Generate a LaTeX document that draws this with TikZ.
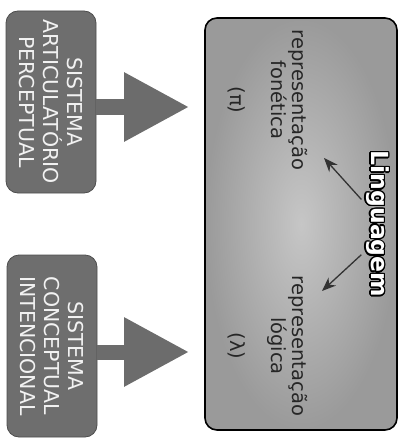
\documentclass[tikz,border=0pt]{standalone}
\usepackage{fontspec}
\setmainfont{DejaVu Sans}
\usepackage[copies]{contour}
\usetikzlibrary{arrows.meta, calc}
\definecolor{sysgray}{HTML}{6E6E6E}
\definecolor{boxgray}{HTML}{9A9A9A}
\definecolor{boxlight}{HTML}{C6C6C6}
\definecolor{arrowgray}{HTML}{6C6C6C}
\contourlength{1.3pt}

\begin{document}
\begin{tikzpicture}[
    x=1pt, y=-1pt,
    sysbox/.style={rectangle, rounded corners=12pt, fill=sysgray, draw=sysgray!70!black, line width=0.8pt,
                   minimum width=182pt, minimum height=90pt, rotate=-90, align=center, text=black!5,
                   font=\fontsize{20.5}{24}\selectfont},
    langbox/.style={rectangle, rounded corners=12pt, draw=black, line width=1.6pt,
                    inner color=boxlight, outer color=boxgray, minimum width=192pt, minimum height=412pt},
    rep/.style={rotate=-90, align=center, text=black!85, font=\fontsize{19.5}{21}\selectfont},
    title/.style={rotate=-90, text=white, font=\bfseries\fontsize{23.5}{24}\selectfont},
    fatarrow/.style={arrowgray, line width=15pt, -{Triangle[length=65pt, width=65pt]}, shorten >=15pt},
    ptr/.style={black!80, line width=1.3pt, -{Stealth[length=14pt, width=11pt]}}
  ]
  \useasboundingbox (0,0) rectangle (406,441);

  % big box and the two systems
  \node[langbox] (ling) at (301,224) {};
  \node[sysbox] (artic) at (51,102) {SISTEMA\\ARTICULATÓRIO\\PERCEPTUAL};
  \node[sysbox] (conc) at (52,346) {SISTEMA\\CONCEPTUAL\\INTENCIONAL};

  \draw[fatarrow] ([yshift=-5pt]artic.north) -- ([yshift=-5pt]artic.north -| ling.west);
  \draw[fatarrow] ([yshift=-6pt]conc.north) -- ([yshift=-6pt]conc.north -| ling.west);

  % inside the language box
  \node[title] (title) at (377,224) {\contour{black}{Linguagem}};
  \node[rep] (fon) at (268,100) {representação\\fonética\\[20pt](π)};
  \node[rep] (log) at (268,346) {representação\\lógica\\[20pt](λ)};

  \coordinate (fontip) at (324,158);
  \coordinate (logtip) at (322,291);
  \draw[ptr] ($(title.south west)!0.34!(title.south east)$) -- (fontip);
  \draw[ptr] ($(title.south west)!0.70!(title.south east)$) -- (logtip);
\end{tikzpicture}
\end{document}
